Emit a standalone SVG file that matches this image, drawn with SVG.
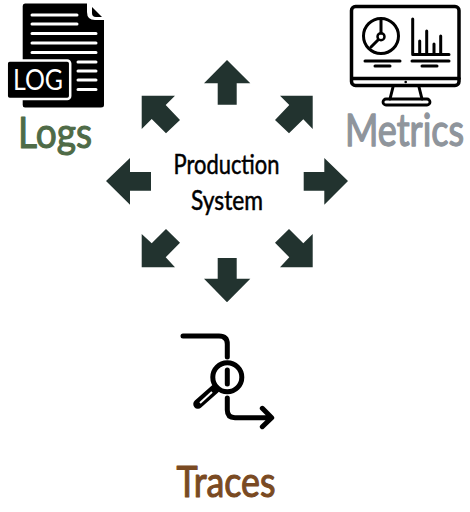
<svg xmlns="http://www.w3.org/2000/svg" width="470" height="512" viewBox="0 0 470 512">
<style>
.ar{fill:#22332f}
.ln{fill:none;stroke:#000;stroke-linecap:round;stroke-linejoin:round}
.wl{stroke:#fff;stroke-width:3;stroke-linecap:round;fill:none}
.t{font-family:"Lato","Noto Sans",sans-serif;text-anchor:middle}
.h{stroke-width:1.1;stroke-linejoin:round}
</style>
<rect width="470" height="512" fill="#fff"/>
<g id="connectors">
<polygon class="ar" points="227,60 250.3,83.3 236.7,83.3 236.7,104.7 217.7,104.7 217.7,83.3 204,83.3"/>
<polygon class="ar" points="106,181 130,158 130,172 151,172 151,190.7 130,190.7 130,204.7"/>
<polygon class="ar" points="348,181 324.3,158 324.3,172 303.7,172 303.7,190.7 324.3,190.7 324.3,204.7"/>
<polygon class="ar" points="227,302.3 250.3,278.7 236.7,278.7 236.7,258 217.7,258 217.7,278.7 204,278.7"/>
<polygon class="ar" points="141.7,95.7 175,95.7 165.7,105 180,120 166,133.3 151.7,119 141.7,129"/>
<polygon class="ar" points="312.7,95.7 280,95.7 289.3,105 275,120 289,133.3 303.3,119.3 312.7,129"/>
<polygon class="ar" points="141.7,267.3 141.7,234 151.7,243.3 166,229 180,242.7 165.7,257.3 175,267.3"/>
<polygon class="ar" points="312.7,267.3 312.7,234 303.3,243.3 289,229 275,242.7 289.3,257.3 280,267.3"/>
</g>
<g id="logs">
<path d="M25,3.5H87V12Q87,20 95,20H104V105Q104,107.5 101,107.5H25Q22.7,107.5 22.7,105V6Q22.7,3.5 25,3.5Z" fill="#000"/>
<path d="M92,7L102,17H96Q92,17 92,13Z" fill="#000"/>
<path class="wl" d="M32,15H77M32,24H77M32,33.5H96M32,43H96M32,52.5H96M78,62H96M78,71H96M78,80H96M78,89.5H96"/>
<rect x="6.7" y="60.5" width="63.5" height="38.5" rx="3" fill="#000" stroke="#fff" stroke-width="2.5"/>
<text class="t" x="38" y="90" font-size="29" fill="#fff" textLength="50" lengthAdjust="spacingAndGlyphs">LOG</text>
<text class="t h" x="55" y="148" font-size="42" fill="#4f6b47" stroke="#4f6b47" textLength="74" lengthAdjust="spacingAndGlyphs">Logs</text>
</g>
<g id="metrics">
<rect x="351.5" y="6.5" width="107.5" height="79" rx="4" class="ln" stroke-width="3.5"/>
<path class="ln" stroke-width="3.5" d="M352,78.5H459"/>
<circle cx="405.7" cy="82" r="1.3" fill="#000"/>
<path class="ln" stroke-width="3" d="M393,87L390,99M419,87L422,99"/>
<rect x="383" y="99" width="47" height="6" rx="3" class="ln" stroke-width="2.8"/>
<circle cx="381" cy="36" r="17.5" class="ln" stroke-width="3"/>
<path class="ln" stroke-width="3" d="M381,20V33M378,40L371,47"/>
<circle cx="381" cy="36.7" r="3.5" class="ln" stroke-width="2.5"/>
<path class="ln" stroke-width="3" d="M412.7,19V54.5H449M419.7,53V41M426.7,53V31M434,53V44M440.7,53V36"/>
<path class="ln" stroke-width="3" d="M365,61H400M375,66H390M412,61H449M422,66H437"/>
<text class="t h" transform="translate(404.5,146) scale(1,1.22)" font-size="36" fill="#8f959c" stroke="#8f959c">Metrics</text>
</g>
<g id="production-system">
<text class="t" x="226.5" y="174" font-size="27" fill="#000" stroke="#000" stroke-width="0.5" textLength="106" lengthAdjust="spacingAndGlyphs">Production</text>
<text class="t" x="227" y="210" font-size="26" fill="#000" stroke="#000" stroke-width="0.5" textLength="72" lengthAdjust="spacingAndGlyphs">System</text>
</g>
<g id="traces">
<path class="ln" stroke-width="5" d="M183,336H219Q227.3,336 227.3,344V357M227.3,370V384M227.3,398V410Q227.3,417.7 235,417.7H271M262.3,408.3L271.7,417.7L262.3,426.7"/>
<circle cx="227.3" cy="377.3" r="14.5" class="ln" stroke-width="5"/>
<path d="M215,389L198,404" stroke="#000" stroke-width="9.5" stroke-linecap="round"/>
<path d="M212,392L200,403" stroke="#fff" stroke-width="2"/>
<text class="t h" x="226" y="497" font-size="42" fill="#7a4a22" stroke="#7a4a22" textLength="99" lengthAdjust="spacingAndGlyphs">Traces</text>
</g>
</svg>
